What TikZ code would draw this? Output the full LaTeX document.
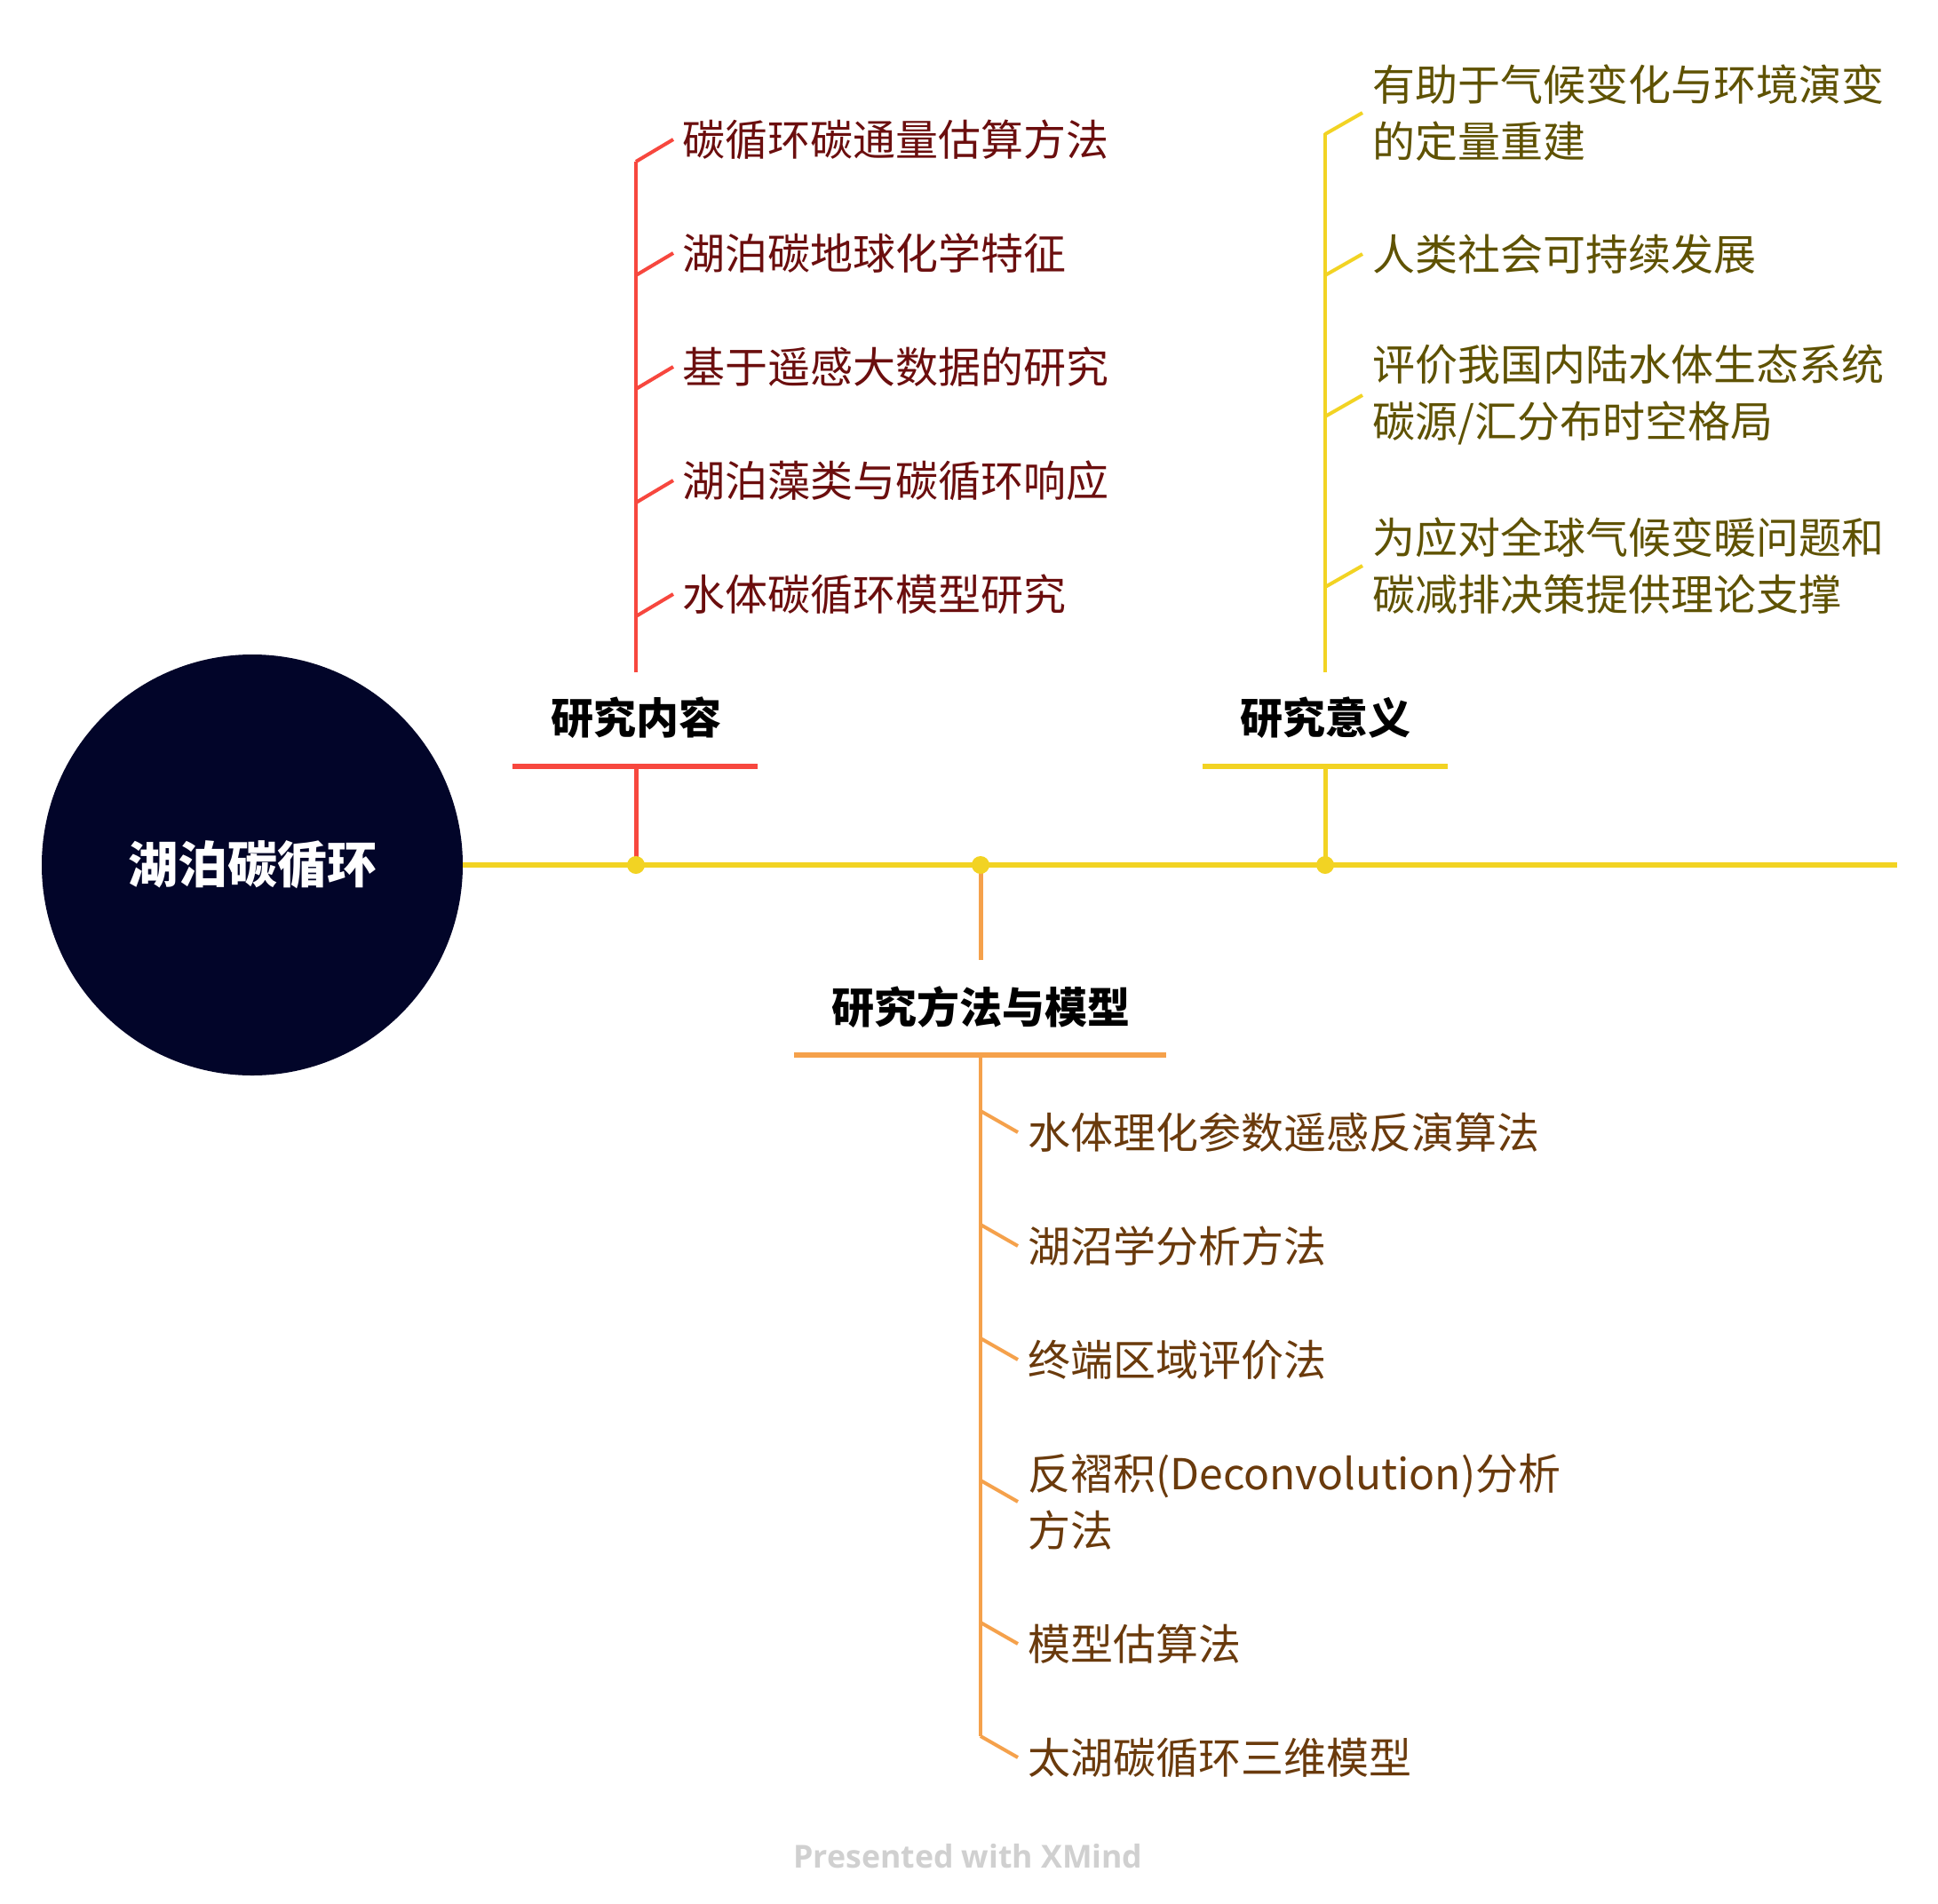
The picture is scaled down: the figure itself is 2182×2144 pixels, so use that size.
\documentclass[tikz,border=0pt]{standalone}
\usepackage{fontspec}
\setmainfont{Noto Sans CJK SC}
\newfontfamily\footfont{Open Sans}
\definecolor{navy}{HTML}{020529}
\definecolor{mainyel}{HTML}{F2D323}
\definecolor{bred}{HTML}{F7473E}
\definecolor{borange}{HTML}{F5A14B}
\definecolor{byellow}{HTML}{F2D323}
\definecolor{redtext}{HTML}{6B0E0E}
\definecolor{oltext}{HTML}{5F5202}
\definecolor{brtext}{HTML}{6A3A0C}
\definecolor{footgray}{HTML}{D0D0D0}
\begin{document}
\begin{tikzpicture}[x=1pt,y=-1pt,
  sub/.style={anchor=west,inner sep=0pt,align=left,font=\fontsize{48}{64}\selectfont},
  lbl/.style={inner sep=0pt,text=black,font=\bfseries\fontsize{48}{64}\selectfont},
  trunk/.style={line width=5pt},
  uline/.style={line width=6pt},
  stemline/.style={line width=4pt},
  twig/.style={line width=4pt},
  dot/.style={circle,fill=mainyel,inner sep=0pt,minimum size=20pt}]
\useasboundingbox (0,0) rectangle (2182,2144);
\fill[white] (0,0) rectangle (2182,2144);

% root and main line
\node[circle,fill=navy,inner sep=0pt,minimum size=474pt,text=white,
      font=\bfseries\fontsize{56}{60}\selectfont] (root) at (284,974) {湖泊碳循环};
\coordinate (mend) at (2136,974);
\draw[mainyel,line width=6pt] (root.east) -- (mend);

\coordinate (d1) at (716,974);
\coordinate (d2) at (1104,974);
\coordinate (d3) at (1492,974);

% ===== 研究内容 (red) =====
\coordinate (u1) at (716,863);
\coordinate (u1l) at (577,863);
\coordinate (u1r) at (853,863);
\draw[bred,trunk] (d1) -- (u1);
\draw[bred,uline] (u1l) -- (u1r);
\node[lbl] (L1) at (716,808) {研究内容};
\coordinate (s1b) at (716,757);
\coordinate (s1t) at (716,182);
\draw[bred,stemline] (s1b) -- (s1t);
\node[sub,text=redtext] (r1) at (768,157) {碳循环碳通量估算方法};
\node[sub,text=redtext] (r2) at (768,285) {湖泊碳地球化学特征};
\node[sub,text=redtext] (r3) at (768,413) {基于遥感大数据的研究};
\node[sub,text=redtext] (r4) at (768,541) {湖泊藻类与碳循环响应};
\node[sub,text=redtext] (r5) at (768,669) {水体碳循环模型研究};
\foreach \i/\y in {1/182,2/310,3/438,4/566,5/694}{
  \coordinate (jr\i) at (716,\y);
  \draw[bred,twig] (jr\i) -- ([xshift=-10pt]r\i.west);
}

% ===== 研究意义 (yellow) =====
\coordinate (u3) at (1492,863);
\coordinate (u3l) at (1354,863);
\coordinate (u3r) at (1630,863);
\draw[byellow,trunk] (d3) -- (u3);
\draw[byellow,uline] (u3l) -- (u3r);
\node[lbl] (L3) at (1492,808) {研究意义};
\coordinate (s3b) at (1492,757);
\coordinate (s3t) at (1492,150);
\draw[byellow,stemline] (s3b) -- (s3t);
\node[sub,text=oltext] (y1) at (1545,127) {有助于气候变化与环境演变\\的定量重建};
\node[sub,text=oltext] (y2) at (1545,286) {人类社会可持续发展};
\node[sub,text=oltext] (y3) at (1545,445) {评价我国内陆水体生态系统\\碳源/汇分布时空格局};
\node[sub,text=oltext] (y4) at (1545,637) {为应对全球气候变暖问题和\\碳减排决策提供理论支撑};
\foreach \i/\y in {1/151,2/310,3/469,4/661}{
  \coordinate (jy\i) at (1492,\y);
  \draw[byellow,twig] (jy\i) -- ([xshift=-11pt]y\i.west);
}

% ===== 研究方法与模型 (orange) =====
\coordinate (a2) at (1104,1081);
\draw[borange,trunk] (d2) -- (a2);
\node[lbl] (L2) at (1104,1134) {研究方法与模型};
\coordinate (u2) at (1104,1188);
\coordinate (u2l) at (894,1188);
\coordinate (u2r) at (1313,1188);
\draw[borange,uline] (u2l) -- (u2r);
\coordinate (s2b) at (1104,1955);
\draw[borange,stemline] (u2) -- (s2b);
\node[sub,text=brtext] (o1) at (1157,1275) {水体理化参数遥感反演算法};
\node[sub,text=brtext] (o2) at (1157,1403) {湖沼学分析方法};
\node[sub,text=brtext] (o3) at (1157,1531) {终端区域评价法};
\node[sub,text=brtext] (o4) at (1157,1691) {反褶积(Deconvolution)分析\\方法};
\node[sub,text=brtext] (o5) at (1157,1851) {模型估算法};
\node[sub,text=brtext] (o6) at (1157,1979) {太湖碳循环三维模型};
\foreach \i/\y in {1/1251,2/1379,3/1507,4/1667,5/1827,6/1955}{
  \coordinate (jo\i) at (1104,\y);
  \draw[borange,twig] (jo\i) -- ([xshift=-11pt]o\i.west);
}

% dots on main line
\node[dot] (D1) at (d1) {};
\node[dot] (D2) at (d2) {};
\node[dot] (D3) at (d3) {};

% footer
\node[anchor=base,inner sep=0pt,text=footgray] (foot) at (1090,2103)
  {\resizebox{393pt}{!}{\footfont\bfseries Presented with XMind}};
\end{tikzpicture}
\end{document}
